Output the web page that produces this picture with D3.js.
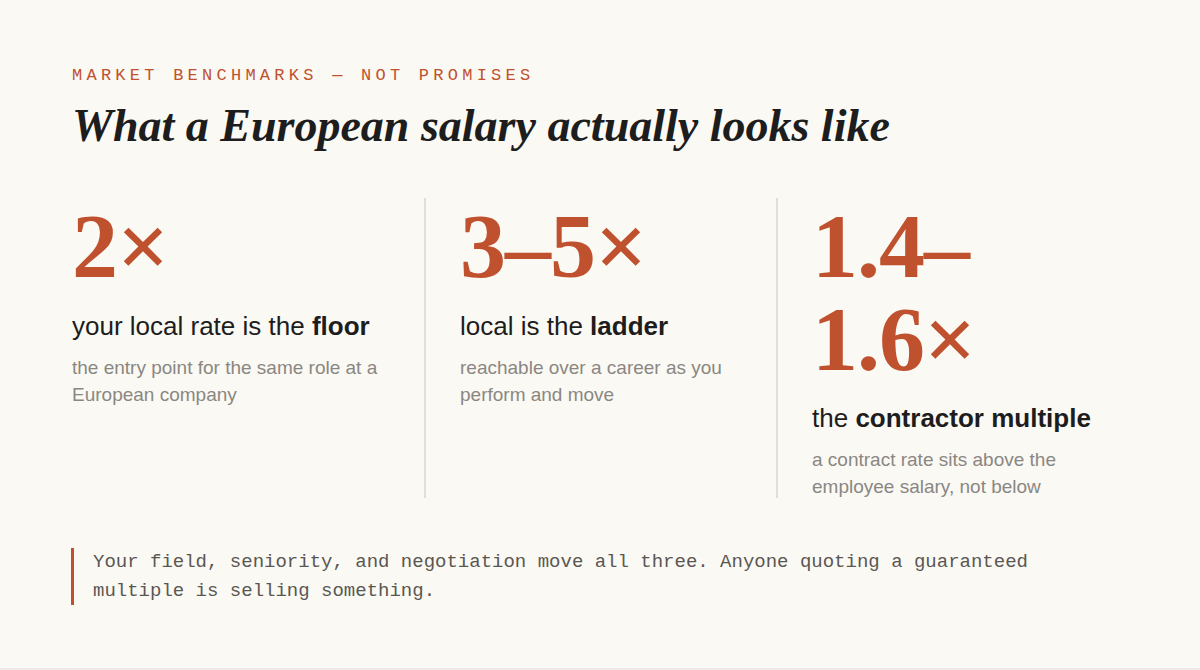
<!DOCTYPE html>
<html><head><meta charset="utf-8">
<script src="https://cdn.jsdelivr.net/npm/d3@7"></script>
<style>body{margin:0;background:#fbf9f3}</style></head>
<body><script>
const multiples=[["2×"],["3–5×"],["1.4–","1.6×"]];
const labelPlain=["your local rate is the ","local is the ","the "];
const labelBold=["floor","ladder","contractor multiple"];
const descriptions=[["the entry point for the same role at a","European company"],["reachable over a career as you","perform and move"],["a contract rate sits above the","employee salary, not below"]];
const noteLines=["Your field, seniority, and negotiation move all three. Anyone quoting a guaranteed","multiple is selling something."];
const W=1200,H=670,red="#c0512f";
const svg=d3.select("body").append("svg").attr("width",W).attr("height",H);
svg.append("rect").attr("width",W).attr("height",H).attr("fill","#fbf9f3");
svg.append("line").attr("x1",0).attr("x2",W).attr("y1",669).attr("y2",669).attr("stroke","#ddd");
svg.append("text").attr("x",72).attr("y",80).attr("font-family","Liberation Mono, monospace").attr("font-size",17).attr("letter-spacing",4.25).attr("fill",red).text("MARKET BENCHMARKS — NOT PROMISES");
svg.append("text").attr("x",72).attr("y",141).attr("font-family","Liberation Serif, serif").attr("font-style","italic").attr("font-weight","bold").attr("font-size",46).attr("letter-spacing",0).attr("fill","#1d1d1d").text("What a European salary actually looks like");
const x=d3.scaleOrdinal().domain([0,1,2]).range([72,460,812]);
[425,777].forEach(d=>svg.append("line").attr("x1",d).attr("x2",d).attr("y1",198).attr("y2",498).attr("stroke","#ddd6cb").attr("stroke-width",1.5));
multiples.forEach((m,i)=>{
  const g=svg.append("g").attr("transform",`translate(${x(i)},0)`);
  m.forEach((t,j)=>g.append("text").attr("y",277+j*93).attr("font-family","Liberation Serif, serif").attr("font-weight","bold").attr("font-size",92).attr("letter-spacing",-1).attr("fill",red).text(t));
  const off=(m.length-1)*92;
  const lt=g.append("text").attr("y",335+off).attr("font-family","Liberation Sans, Arial, sans-serif").attr("font-size",26).attr("fill","#1d1d1d");
  lt.append("tspan").text(labelPlain[i]);
  lt.append("tspan").attr("font-weight","bold").text(labelBold[i]);
  descriptions[i].forEach((d,k)=>g.append("text").attr("y",374+off+k*27).attr("font-family","Liberation Sans, Arial, sans-serif").attr("font-size",19).attr("fill","#8a8783").text(d));
});
svg.append("rect").attr("x",71).attr("y",548).attr("width",3).attr("height",57).attr("fill",red);
noteLines.forEach((t,i)=>svg.append("text").attr("x",93).attr("y",567+i*29).attr("font-family","Liberation Mono, monospace").attr("font-size",19).attr("fill","#5a5753").text(t));
</script></body></html>
